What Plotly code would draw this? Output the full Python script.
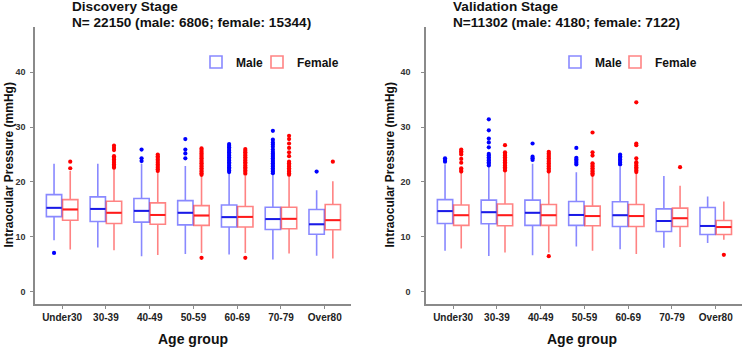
import plotly.graph_objects as go

# ---------------- data ----------------
age_groups = ["Under30", "30-39", "40-49", "50-59", "60-69", "70-79", "Over80"]
y_ticks = [0, 10, 20, 30, 40]

# Discovery stage - male
disc_male_q1 = [13.7, 12.8, 12.7, 12.2, 11.8, 11.35, 10.5]
disc_male_med = [15.3, 15.1, 14.75, 14.4, 13.6, 13.25, 12.3]
disc_male_q3 = [17.7, 17.3, 17.0, 16.6, 15.8, 15.4, 15.0]
disc_male_lo = [9.4, 8.1, 6.5, 6.9, 6.8, 5.9, 6.6]
disc_male_hi = [23.3, 23.3, 23.3, 22.9, 21.6, 21.25, 18.5]
disc_male_out = [
    [7.1],
    [],
    [25.9, 24.3, 23.8],
    [27.8, 25.9, 25.2, 24.3],
    [26.9, 26.6, 26.3, 26.0, 25.7, 25.4, 25.1, 24.8, 24.5, 24.2, 23.9, 23.6, 23.3, 23.0, 22.7, 22.4, 22.1, 21.8],
    [29.3, 27.7, 27.2, 26.8, 26.4, 25.9, 25.5, 25.2, 24.9, 24.6, 24.3, 24.0, 23.7, 23.4, 23.1, 22.8, 22.5, 22.2, 21.9, 21.6],
    [21.9],
]
# Discovery stage - female
disc_female_q1 = [13.05, 12.45, 12.3, 12.1, 11.8, 11.5, 11.3]
disc_female_med = [15.0, 14.4, 14.0, 13.9, 13.65, 13.3, 13.05]
disc_female_q3 = [16.8, 16.5, 16.2, 15.7, 15.55, 15.4, 15.9]
disc_female_lo = [7.7, 7.6, 6.7, 7.1, 7.1, 7.0, 6.1]
disc_female_hi = [22.0, 22.4, 21.9, 21.1, 21.1, 20.9, 20.15]
disc_female_out = [
    [23.7, 22.5],
    [26.6, 26.2, 25.8, 24.7, 24.4, 24.1, 23.8, 23.5, 23.2, 22.9, 22.6],
    [25.0, 24.7, 24.4, 24.1, 23.8, 23.5, 23.2, 22.9, 22.6, 22.3, 22.0],
    [26.1, 25.8, 25.5, 25.2, 24.9, 24.6, 24.3, 24.0, 23.7, 23.4, 23.1, 22.8, 22.5, 22.2, 21.9, 21.6, 21.3, 6.2],
    [26.0, 25.7, 25.4, 25.1, 24.8, 24.5, 24.2, 23.9, 23.6, 23.3, 23.0, 22.7, 22.4, 22.1, 21.8, 21.5, 6.2],
    [28.4, 27.8, 27.0, 26.2, 25.4, 24.7, 23.7, 23.4, 23.1, 22.8, 22.5, 22.2, 21.9, 21.6, 21.3],
    [23.7],
]

# Validation stage - male
val_male_q1 = [12.45, 12.4, 12.1, 12.1, 11.9, 11.0, 10.45]
val_male_med = [14.7, 14.5, 14.4, 14.0, 13.95, 12.9, 12.0]
val_male_q3 = [16.8, 16.7, 16.7, 16.45, 16.4, 15.1, 15.35]
val_male_lo = [7.5, 6.55, 6.65, 8.25, 7.75, 8.05, 8.9]
val_male_hi = [23.25, 22.9, 23.3, 21.75, 22.8, 21.1, 17.35]
val_male_out = [
    [24.3, 24.0, 23.7],
    [31.4, 29.4, 27.9, 27.2, 26.3, 25.1, 24.8, 24.5, 24.2, 23.9, 23.6, 23.3, 23.0],
    [27.0, 24.6, 24.3, 24.0],
    [26.2, 24.4, 24.1, 23.8, 23.5, 23.2],
    [25.0, 24.7, 24.4, 24.1, 23.8, 23.5, 23.2],
    [],
    [],
]
# Validation stage - female
val_female_q1 = [12.1, 12.05, 12.1, 12.05, 11.9, 11.9, 10.45]
val_female_med = [13.95, 13.95, 13.95, 13.8, 13.8, 13.4, 11.8]
val_female_q3 = [15.8, 16.0, 15.9, 15.6, 15.9, 15.25, 13.0]
val_female_lo = [7.9, 7.15, 7.15, 7.5, 6.9, 8.15, 9.5]
val_female_hi = [21.6, 21.9, 21.6, 21.0, 21.6, 19.3, 16.45]
val_female_out = [
    [25.9, 25.6, 25.3, 25.0, 24.2, 23.5, 22.5, 22.2, 21.9],
    [26.7, 25.4, 25.1, 24.8, 24.5, 24.2, 23.9, 23.6, 23.3, 23.0, 22.7, 22.4, 22.1],
    [25.5, 25.2, 24.9, 24.6, 24.3, 24.0, 23.7, 23.4, 23.1, 22.8, 22.5, 22.2, 21.9, 6.5],
    [29.0, 25.4, 24.8, 23.4, 23.1, 22.8, 22.5, 22.2, 21.9, 21.6, 21.3],
    [34.5, 27.0, 26.7, 24.3, 23.6, 23.3, 23.0, 22.7, 22.4, 22.1, 21.8],
    [22.7],
    [6.75],
]

# ---------------- layout constants ----------------
W, H = 742, 348
MT, MB = 27, 44
PLOT_H = H - MT - MB
FONT = "Liberation Sans"

def px_x(x):
    return x / W

def px_y(y):
    return (H - MB - y) / PLOT_H

OFFSET = 0.185
BOXW = 0.35

styles = {
    "Male": dict(line="rgba(40,40,255,0.55)", med="#1a1ae6", pt="#0000ff", off=-OFFSET),
    "Female": dict(line="rgba(255,30,30,0.55)", med="#ff1a1a", pt="#ff0000", off=OFFSET),
}

panels = [
    dict(xa="x", ya="y", legends={"Male": ("legend", 196), "Female": ("legend2", 257)},
         Male=(disc_male_q1, disc_male_med, disc_male_q3, disc_male_lo, disc_male_hi, disc_male_out),
         Female=(disc_female_q1, disc_female_med, disc_female_q3, disc_female_lo, disc_female_hi, disc_female_out)),
    dict(xa="x2", ya="y2", legends={"Male": ("legend3", 555), "Female": ("legend4", 615)},
         Male=(val_male_q1, val_male_med, val_male_q3, val_male_lo, val_male_hi, val_male_out),
         Female=(val_female_q1, val_female_med, val_female_q3, val_female_lo, val_female_hi, val_female_out)),
]

legend_font = dict(family=FONT, size=12, color="#111", weight="bold")
legend_layouts = {}

fig = go.Figure()
for p in panels:
    for sex in ["Male", "Female"]:
        q1, med, q3, lo, hi, outs = p[sex]
        st = styles[sex]
        lg_name, lg_x = p["legends"][sex]
        legend_layouts[lg_name] = dict(
            orientation="h", x=px_x(lg_x), y=px_y(62), xanchor="left", yanchor="middle",
            bgcolor="rgba(0,0,0,0)", font=legend_font, itemclick=False, itemdoubleclick=False)
        pos = [i + st["off"] for i in range(len(age_groups))]
        fig.add_trace(go.Box(
            x=pos, q1=q1, median=med, q3=q3, lowerfence=lo, upperfence=hi,
            width=BOXW, whiskerwidth=0, boxpoints=False,
            line=dict(color=st["line"], width=1.6),
            fillcolor="rgba(255,255,255,0)",
            name=sex, legend=lg_name, showlegend=True,
            xaxis=p["xa"], yaxis=p["ya"], hoverinfo="skip",
        ))
        mx, my = [], []
        for x0, m in zip(pos, med):
            mx += [x0 - BOXW / 2, x0 + BOXW / 2, None]
            my += [m, m, None]
        fig.add_trace(go.Scatter(
            x=mx, y=my, mode="lines", line=dict(color=st["med"], width=2),
            showlegend=False, xaxis=p["xa"], yaxis=p["ya"], hoverinfo="skip",
        ))
        ox, oy = [], []
        for x0, vals in zip(pos, outs):
            for v in vals:
                ox.append(x0)
                oy.append(v)
        fig.add_trace(go.Scatter(
            x=ox, y=oy, mode="markers", marker=dict(color=st["pt"], size=4.2),
            showlegend=False, xaxis=p["xa"], yaxis=p["ya"], hoverinfo="skip",
        ))

axis_common = dict(showline=True, linecolor="#8a8a8a", linewidth=1.5, ticks="outside",
                   ticklen=3, tickcolor="#8a8a8a", showgrid=False, zeroline=False,
                   automargin=False)
xcommon = dict(axis_common, range=[-0.62, 6.6], tickvals=list(range(len(age_groups))),
               ticktext=age_groups, tickfont=dict(family=FONT, size=10, color="#222", weight="bold"))
ycommon = dict(axis_common, range=[-2.2, 48.2], tickvals=y_ticks,
               tickfont=dict(family=FONT, size=9, color="#333", weight="bold"))

fig.update_layout(
    width=W, height=H,
    margin=dict(l=0, r=0, t=MT, b=MB),
    paper_bgcolor="white", plot_bgcolor="white",
    boxmode="overlay",
    xaxis=dict(xcommon, domain=[px_x(35), px_x(351)], anchor="y"),
    yaxis=dict(ycommon, domain=[0, 1], anchor="x", ticklabelstandoff=3),
    xaxis2=dict(xcommon, domain=[px_x(426), 1.0], anchor="y2"),
    yaxis2=dict(ycommon, domain=[0, 1], anchor="x2", ticklabelstandoff=9),
    showlegend=True,
    **legend_layouts,
)

title_font = dict(family=FONT, size=13.6, color="#111", weight="bold")
ann = [
    (70, 6, "Discovery Stage"),
    (70, 22.5, "N= 22150 (male: 6806; female: 15344)"),
    (451, 6, "Validation Stage"),
    (451, 22.5, "N=11302 (male: 4180; female: 7122)"),
]
for x, y, t in ann:
    fig.add_annotation(text=t, x=px_x(x), y=px_y(y), xref="paper", yref="paper",
                       xanchor="left", yanchor="middle", showarrow=False, font=title_font)

for x, t in [(8, "Intraocular Pressure (mmHg)"), (389, "Intraocular Pressure (mmHg)")]:
    fig.add_annotation(text=t, x=px_x(x), y=0.5, xref="paper", yref="paper",
                       xanchor="center", yanchor="middle", textangle=-90, showarrow=False,
                       font=dict(family=FONT, size=12, color="#111", weight="bold"))

for x in [193, 582]:
    fig.add_annotation(text="Age group", x=px_x(x), y=px_y(339), xref="paper", yref="paper",
                       xanchor="center", yanchor="middle", showarrow=False,
                       font=dict(family=FONT, size=14, color="#111", weight="bold"))

fig.write_html("out.html", config={"displayModeBar": False},
               post_script="document.body.style.margin='0';document.body.style.padding='0';")
